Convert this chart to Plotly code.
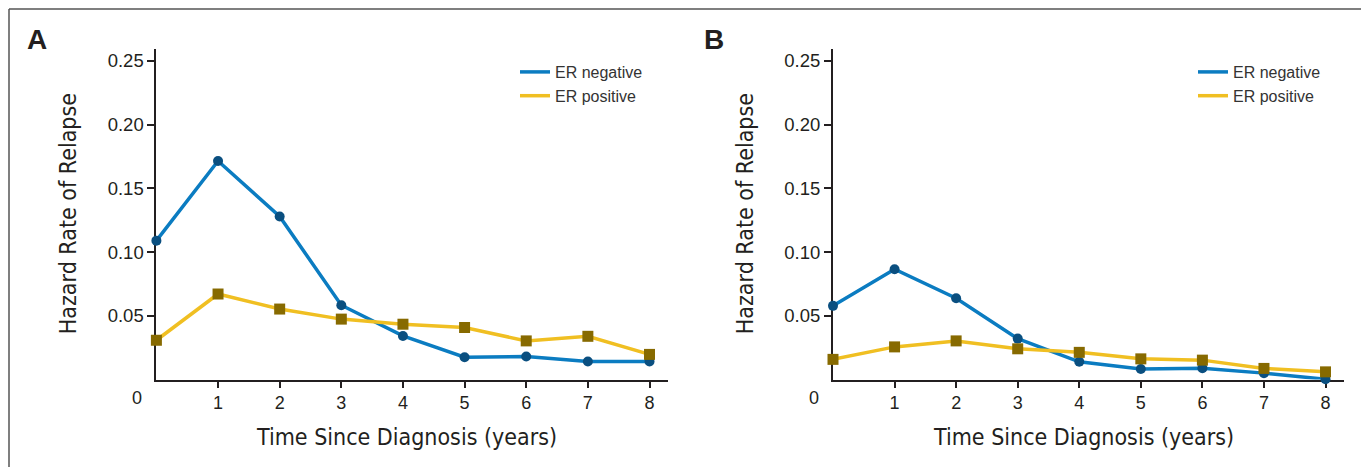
import plotly.graph_objects as go

W, H = 1369, 467
OFF = 8  # page body margin offset

years = [0, 1, 2, 3, 4, 5, 6, 7, 8]
x_tick_vals = [1, 2, 3, 4, 5, 6, 7, 8]
x_tick_text = ["1", "2", "3", "4", "5", "6", "7", "8"]
y_tick_vals = [0.05, 0.10, 0.15, 0.20, 0.25]
y_tick_text = ["0.05", "0.10", "0.15", "0.20", "0.25"]

a_er_negative = [0.109, 0.1715, 0.128, 0.0583, 0.0342, 0.0175, 0.0180, 0.0141, 0.0142]
a_er_positive = [0.0308, 0.0671, 0.0553, 0.0474, 0.0434, 0.0408, 0.0303, 0.0339, 0.0197]
b_er_negative = [0.0578, 0.0866, 0.0638, 0.0321, 0.0139, 0.0082, 0.0089, 0.0050, 0.0002]
b_er_positive = [0.0158, 0.0256, 0.0303, 0.0241, 0.0213, 0.0162, 0.0152, 0.0087, 0.0060]

series_names = ["ER negative", "ER positive"]
panel_labels = ["A", "B"]
x_title = "Time Since Diagnosis (years)"
y_title = "Hazard Rate of Relapse"

BLUE_LINE = "#0b7cc1"
BLUE_MARK = "#0a4f80"
YEL_LINE = "#f0bf22"
YEL_MARK = "#876a00"
TXT = "#231f20"
NARROW = "Liberation Sans Narrow, Arial Narrow, DejaVu Sans Condensed, sans-serif"
SANS = "Liberation Sans, Arial, Helvetica, sans-serif"


def px(x):
    return (x - OFF) / W


def py(y):
    return 1 - (y - OFF) / H


fig = go.Figure()

panels = [
    dict(neg=a_er_negative, pos=a_er_positive, x0=156.4, x1=668.0, xa="x", ya="y", lg="legend"),
    dict(neg=b_er_negative, pos=b_er_positive, x0=833.0, x1=1344.0, xa="x2", ya="y2", lg="legend2"),
]
y_bot, y_top = 379.5, 49.0

for i, p in enumerate(panels):
    fig.add_trace(go.Scatter(
        x=years, y=p["neg"], mode="lines+markers", xaxis=p["xa"], yaxis=p["ya"],
        line=dict(color=BLUE_LINE, width=3.5),
        marker=dict(color=BLUE_MARK, size=10, symbol="circle"),
        showlegend=False, cliponaxis=False, name=series_names[0]))
    fig.add_trace(go.Scatter(
        x=years, y=p["pos"], mode="lines+markers", xaxis=p["xa"], yaxis=p["ya"],
        line=dict(color=YEL_LINE, width=3.5),
        marker=dict(color=YEL_MARK, size=11, symbol="square"),
        showlegend=False, cliponaxis=False, name=series_names[1]))
    # legend-only entries (line samples without markers)
    fig.add_trace(go.Scatter(
        x=[None], y=[None], mode="lines", xaxis=p["xa"], yaxis=p["ya"],
        line=dict(color=BLUE_LINE, width=3.5), name=series_names[0], legend=p["lg"]))
    fig.add_trace(go.Scatter(
        x=[None], y=[None], mode="lines", xaxis=p["xa"], yaxis=p["ya"],
        line=dict(color=YEL_LINE, width=3.5), name=series_names[1], legend=p["lg"]))

xaxis_common = dict(
    range=[0, 8.3], tickvals=x_tick_vals, ticktext=x_tick_text,
    showline=True, linecolor=TXT, linewidth=2, ticks="outside", ticklen=6,
    tickwidth=1.5, tickcolor=TXT, showgrid=False, zeroline=False,
    tickfont=dict(family=SANS, size=18, color=TXT), layer="below traces",
    fixedrange=True,
)
yaxis_common = dict(
    range=[0, 0.05 * (y_bot - y_top) / 63.7], tickvals=y_tick_vals, ticktext=y_tick_text,
    showline=True, linecolor=TXT, linewidth=2, ticks="outside", ticklen=7,
    tickwidth=1.5, tickcolor=TXT, showgrid=False, zeroline=False,
    tickfont=dict(family=SANS, size=18.5, color=TXT), layer="below traces",
    fixedrange=True,
)

fig.update_layout(
    width=W, height=H, margin=dict(l=0, r=0, t=0, b=0),
    paper_bgcolor="white", plot_bgcolor="white",
    xaxis=dict(domain=[px(panels[0]["x0"]), px(panels[0]["x1"])], anchor="y", **xaxis_common),
    yaxis=dict(domain=[py(y_bot), py(y_top)], anchor="x", **yaxis_common),
    xaxis2=dict(domain=[px(panels[1]["x0"]), px(panels[1]["x1"])], anchor="y2", **xaxis_common),
    yaxis2=dict(domain=[py(y_bot), py(y_top)], anchor="x2", **yaxis_common),
    legend=dict(x=px(515), y=py(55), xanchor="left", yanchor="top",
                font=dict(family=SANS, size=16, color="#333333"),
                bgcolor="rgba(0,0,0,0)", itemwidth=30, tracegroupgap=0),
    legend2=dict(x=px(1193), y=py(55), xanchor="left", yanchor="top",
                 font=dict(family=SANS, size=16, color="#333333"),
                 bgcolor="rgba(0,0,0,0)", itemwidth=30, tracegroupgap=0),
    showlegend=True,
)

annotations = []
for lab, xl, x0, yt in [("A", 37, 156.4, 68), ("B", 714, 833.0, 745)]:
    annotations.append(dict(text="<b>" + lab + "</b>", x=px(xl), y=py(40), xref="paper", yref="paper",
                            showarrow=False, font=dict(family=SANS, size=28, color=TXT),
                            xanchor="center", yanchor="middle"))
    annotations.append(dict(text=y_title, x=px(yt), y=py((y_bot + y_top) / 2), xref="paper",
                            yref="paper", showarrow=False, textangle=-90,
                            font=dict(family=NARROW, size=23, color=TXT),
                            xanchor="center", yanchor="middle"))
    annotations.append(dict(text=x_title, x=px(x0 + 250), y=py(437), xref="paper", yref="paper",
                            showarrow=False, font=dict(family=NARROW, size=23, color=TXT),
                            xanchor="center", yanchor="middle"))
    annotations.append(dict(text="0", x=px(x0 - 19), y=py(398), xref="paper", yref="paper",
                            showarrow=False, font=dict(family=SANS, size=18, color=TXT),
                            xanchor="center", yanchor="middle"))
fig.update_layout(annotations=annotations)

fig.update_layout(shapes=[
    dict(type="line", xref="paper", yref="paper", x0=px(9), x1=1.0, y0=py(9), y1=py(9),
         line=dict(color="#555555", width=1.5)),
    dict(type="line", xref="paper", yref="paper", x0=px(9), x1=px(9), y0=py(9), y1=0.0,
         line=dict(color="#555555", width=1.5)),
])

fig.write_html("out.html")
